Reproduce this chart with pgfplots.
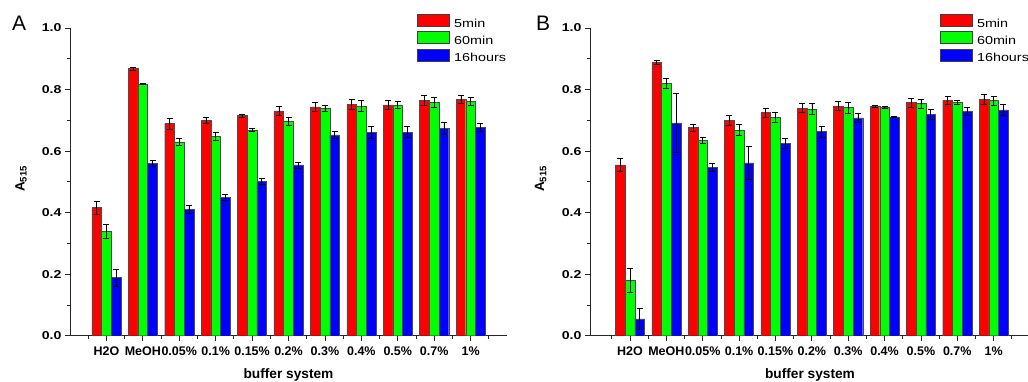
\documentclass[border=0pt]{standalone}
\usepackage{fontspec}
\setmainfont{Liberation Sans}
\newfontfamily\wide[FakeStretch=1.24]{Liberation Sans}
\usepackage{pgfplots}
\pgfplotsset{compat=1.18}
\definecolor{cR}{RGB}{255,0,0}
\definecolor{cG}{RGB}{0,255,0}
\definecolor{cB}{RGB}{0,0,255}
\pgfplotsset{
  panel/.style={
    scale only axis, height=307.7pt,
    ymin=0, ymax=1, ytick={0,0.2,0.4,0.6,0.8,1.0}, minor ytick={0.1,0.3,0.5,0.7,0.9},
    /pgf/number format/assume math mode=true,
    yticklabel style={font=\wide\bfseries\fontsize{11.4}{12}\selectfont,
      /pgf/number format/fixed, /pgf/number format/fixed zerofill, /pgf/number format/precision=1},
    axis x line=bottom, axis y line=left,
    axis line style={-, line width=0.8pt, black!85},
    tick align=outside, major tick length=5pt, minor tick length=3pt,
    tick style={line width=0.8pt, black!85},
    xtick={1,...,11},
    xticklabels={H2O,MeOH,0.05\%,0.1\%,0.15\%,0.2\%,0.3\%,0.4\%,0.5\%,0.7\%,1\%},
    minor xtick={0.5,1.5,...,11.5},
    xticklabel style={font=\bfseries\fontsize{12.5}{13}\selectfont, yshift=-3pt},
    xlabel={buffer system},
    every axis x label/.style={at={(axis description cs:0.5,-0.1375)}, anchor=base, font=\bfseries\fontsize{13.7}{14}\selectfont},
    ylabel={A\textsubscript{515}},
    every axis y label/.style={at={(axis description cs:-0.112,0.51)}, rotate=90, anchor=center, font=\bfseries\fontsize{13.5}{14}\selectfont},
    ybar=0pt, bar width=9.7pt,
    legend style={at={(axis description cs:0.794,1.0455)}, anchor=north west, draw=none, fill=none,
      inner sep=0pt, row sep=0pt, font=\wide\fontsize{11.6}{12}\selectfont,
      nodes={inner sep=1.5pt, text height=8.5pt, text depth=2.5pt},
      /tikz/every odd column/.append style={column sep=3pt}},
    legend cell align=left,
    legend image code/.code={\draw[#1, draw=black!75, line width=0.5pt] (0pt,-2pt) rectangle (32pt,10pt);},
  },
  bars/.style={fill=#1, draw=black!70, line width=0.4pt,
    error bars/.cd, y dir=both, y explicit,
    error bar style={black, line width=0.6pt},
    error mark options={black, rotate=90, mark size=3pt, line width=0.6pt}},
}
\begin{document}
\begin{tikzpicture}[x=1pt,y=1pt]
\begin{axis}[panel, at={(70pt,45.3pt)}, anchor=south west, width=437pt, xmin=0, xmax=12]
\addplot[bars=cR] coordinates {
(1,0.417) +- (0,0.021) (2,0.868) +- (0,0.005) (3,0.689) +- (0,0.018) (4,0.700) +- (0,0.010)
(5,0.716) +- (0,0.005) (6,0.731) +- (0,0.014) (7,0.744) +- (0,0.014) (8,0.752) +- (0,0.017)
(9,0.750) +- (0,0.015) (10,0.766) +- (0,0.016) (11,0.769) +- (0,0.013)};
\addplot[bars=cG] coordinates {
(1,0.338) +- (0,0.023) (2,0.818) +- (0,0.002) (3,0.630) +- (0,0.011) (4,0.649) +- (0,0.013)
(5,0.669) +- (0,0.005) (6,0.698) +- (0,0.013) (7,0.740) +- (0,0.010) (8,0.746) +- (0,0.018)
(9,0.750) +- (0,0.012) (10,0.758) +- (0,0.017) (11,0.762) +- (0,0.012)};
\addplot[bars=cB] coordinates {
(1,0.189) +- (0,0.028) (2,0.561) +- (0,0.010) (3,0.411) +- (0,0.012) (4,0.450) +- (0,0.010)
(5,0.501) +- (0,0.010) (6,0.555) +- (0,0.010) (7,0.653) +- (0,0.012) (8,0.662) +- (0,0.020)
(9,0.662) +- (0,0.018) (10,0.674) +- (0,0.020) (11,0.678) +- (0,0.013)};
\legend{5min,60min,16hours}
\end{axis}
\begin{axis}[panel, at={(590pt,45.3pt)}, anchor=south west, width=440pt, xmin=-0.1, xmax=12,
  legend style={at={(axis description cs:0.795,1.0455)}}]
\addplot[bars=cR] coordinates {
(1,0.555) +- (0,0.021) (2,0.888) +- (0,0.006) (3,0.676) +- (0,0.012) (4,0.700) +- (0,0.015)
(5,0.725) +- (0,0.015) (6,0.740) +- (0,0.015) (7,0.746) +- (0,0.015) (8,0.746) +- (0,0.003)
(9,0.758) +- (0,0.015) (10,0.764) +- (0,0.013) (11,0.768) +- (0,0.015)};
\addplot[bars=cG] coordinates {
(1,0.181) +- (0,0.039) (2,0.820) +- (0,0.015) (3,0.636) +- (0,0.010) (4,0.668) +- (0,0.018)
(5,0.710) +- (0,0.015) (6,0.736) +- (0,0.018) (7,0.741) +- (0,0.017) (8,0.742) +- (0,0.003)
(9,0.754) +- (0,0.015) (10,0.758) +- (0,0.006) (11,0.764) +- (0,0.015)};
\addplot[bars=cB] coordinates {
(1,0.055) +- (0,0.035) (2,0.692) +- (0,0.095) (3,0.546) +- (0,0.013) (4,0.562) +- (0,0.053)
(5,0.625) +- (0,0.017) (6,0.663) +- (0,0.017) (7,0.708) +- (0,0.015) (8,0.711) +- (0,0.002)
(9,0.720) +- (0,0.017) (10,0.728) +- (0,0.013) (11,0.734) +- (0,0.017)};
\legend{5min,60min,16hours}
\end{axis}
\node[anchor=base west, inner sep=0pt] at (12pt,350.3pt) {\fontsize{21}{21}\selectfont A};
\node[anchor=base west, inner sep=0pt] at (536pt,350pt) {\fontsize{21}{21}\selectfont B};
\pgfresetboundingbox
\path[use as bounding box] (0pt,0pt) rectangle (1028pt,381pt);
\end{tikzpicture}
\end{document}
